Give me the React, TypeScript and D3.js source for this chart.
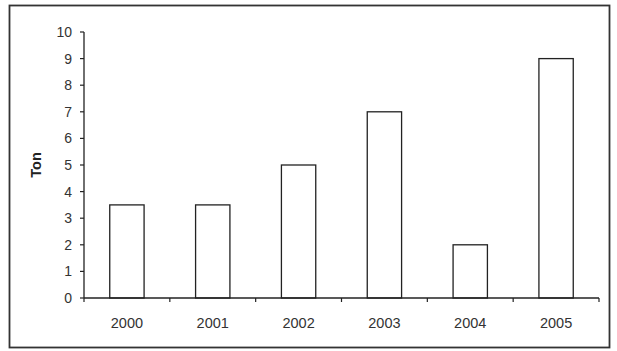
import React from "react";
import * as d3 from "d3";

const categories = ["2000", "2001", "2002", "2003", "2004", "2005"];
const values = [3.5, 3.5, 5, 7, 2, 9];
const yTicks = [0, 1, 2, 3, 4, 5, 6, 7, 8, 9, 10];
const yLabel = "Ton";

export default function App() {
  const W = 617, H = 351;
  const left = 84, right = 599, top = 32, bottom = 298;
  const x = d3.scaleBand<string>().domain(categories).range([left, right]).paddingInner(0.6).paddingOuter(0.3);
  const xEdges = d3.range(categories.length + 1).map((i) => left + (i * (right - left)) / categories.length);
  const y = d3.scaleLinear().domain([0, 10]).range([bottom, top]);
  const font = "'Liberation Sans', Arial, sans-serif";
  return (
    <svg width={W} height={H} style={{ position: "absolute", left: 0, top: 0 }}>
      <rect x={0} y={0} width={W} height={H} fill="#fff" />
      <rect x={9.5} y={5.5} width={600} height={342} fill="#fff" stroke="#333" strokeWidth={1.8} />
      {categories.map((c, i) => (
        <rect key={c} x={x(c)!} y={y(values[i])} width={x.bandwidth()} height={y(0) - y(values[i])}
          fill="#fff" stroke="#222" strokeWidth={1.3} />
      ))}
      <line x1={left} x2={left} y1={y(10)} y2={y(0)} stroke="#222" strokeWidth={1.3} />
      <line x1={left} x2={right} y1={y(0)} y2={y(0)} stroke="#222" strokeWidth={1.3} />
      {yTicks.map((t) => (
        <g key={t}>
          <line x1={left - 4} x2={left} y1={y(t)} y2={y(t)} stroke="#222" strokeWidth={1.2} />
          <text x={left - 12} y={y(t)} dy="0.35em" textAnchor="end" fontFamily={font} fontSize={14} fill="#333">{t}</text>
        </g>
      ))}
      {xEdges.map((e, i) => (
        <line key={i} x1={e} x2={e} y1={y(0)} y2={y(0) + 4} stroke="#222" strokeWidth={1.2} />
      ))}
      {categories.map((c) => (
        <text key={c} x={x(c)! + x.bandwidth() / 2} y={323} dy="0.35em" textAnchor="middle" fontFamily={font} fontSize={14.5} fill="#333">{c}</text>
      ))}
      <text transform={`translate(36,${(y(0) + y(10)) / 2}) rotate(-90)`} dy="0.35em" textAnchor="middle"
        fontFamily={font} fontSize={14.5} fontWeight="bold" fill="#222">{yLabel}</text>
    </svg>
  );
}
